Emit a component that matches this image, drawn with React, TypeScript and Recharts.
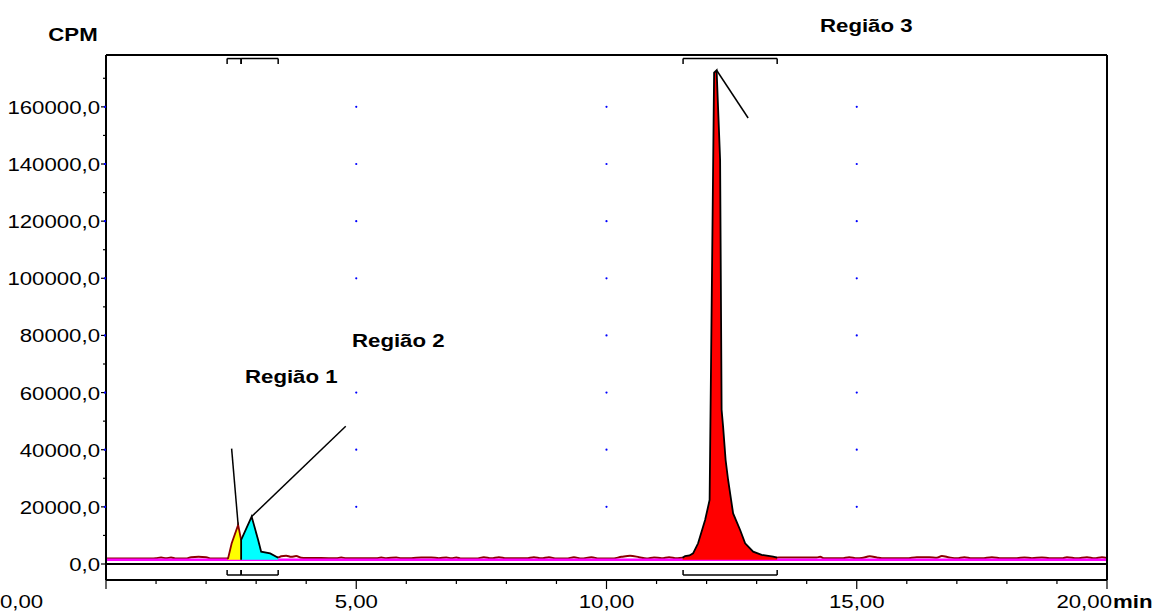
import React from 'react';
import { ComposedChart, XAxis, YAxis, Area, ReferenceLine, ReferenceDot } from 'recharts';

const W = 1157;
const H = 612;
const FONT = '"Liberation Sans", Arial, sans-serif';
const SX = 1.17;

const X_DOMAIN: [number, number] = [0, 20];
const Y_DOMAIN: [number, number] = [-5600, 178150];
const xTicks = [0, 1, 2, 3, 4, 5, 6, 7, 8, 9, 10, 11, 12, 13, 14, 15, 16, 17, 18, 19, 20];
const xGridTicks = [5, 10, 15];
const yTicks = [0, 10000, 20000, 30000, 40000, 50000, 60000, 70000, 80000, 90000, 100000, 110000, 120000, 130000, 140000, 150000, 160000, 170000];
const yGridTicks = [20000, 40000, 60000, 80000, 100000, 120000, 140000, 160000];
const baselineLevel = 1500;

// noise trace (min, CPM)
const traceT = [0, 0.9, 1.0, 1.1, 1.2, 1.3, 1.4, 1.6, 1.7, 1.85, 2.0, 2.1, 2.4, 2.6, 3.0, 3.44, 3.5, 3.6, 3.7, 3.8, 3.9, 4.0, 4.3, 4.6, 4.7, 4.8, 5.0, 5.4, 5.5, 5.6, 5.8, 5.9, 6.1, 6.3, 6.5, 6.65, 6.8, 6.9, 7.0, 7.1, 7.4, 7.55, 7.7, 7.85, 8.0, 8.4, 8.55, 8.7, 8.85, 9.0, 9.2, 9.35, 9.5, 9.7, 9.85, 10.1, 10.3, 10.47, 10.65, 10.8, 10.95, 11.1, 11.25, 11.4, 11.52, 12.0, 13.0, 13.41, 13.5, 14.2, 14.27, 14.35, 14.7, 14.85, 15.0, 15.1, 15.26, 15.4, 15.5, 16.0, 16.2, 16.45, 16.6, 16.7, 16.85, 17.0, 17.15, 17.3, 17.5, 17.7, 17.9, 18.2, 18.35, 18.5, 18.7, 18.85, 19.1, 19.2, 19.4, 19.6, 19.75, 19.9, 20.0];
const traceV = [1900, 1900, 2000, 2300, 2000, 2300, 1900, 1900, 2400, 2500, 2400, 1900, 1900, 1900, 1900, 2300, 2700, 2900, 2500, 2800, 2200, 2100, 2100, 2000, 2300, 2000, 2000, 2000, 2300, 2000, 2300, 2000, 2000, 2300, 2300, 2000, 2300, 2000, 2300, 1900, 1900, 2400, 2000, 2400, 2000, 2000, 2400, 2000, 2400, 1900, 1900, 2400, 1900, 2400, 1900, 1900, 2500, 2900, 2400, 1900, 2300, 2000, 2400, 2000, 2200, 2000, 2000, 2200, 2300, 2300, 2500, 2000, 2000, 2400, 2000, 2100, 2700, 2300, 2000, 2000, 2400, 2400, 2200, 2800, 2300, 2000, 2400, 2000, 2000, 2400, 2000, 2000, 2300, 2000, 2300, 2000, 2000, 2400, 2000, 2400, 2000, 2400, 2100];

// regions
const regionNames = ['Região 1', 'Região 2', 'Região 3'];
const regionStart = [2.42, 2.70, 11.53];
const regionEnd = [2.70, 3.44, 13.41];
const regionColors = ['#FFFF00', '#00FFFF', '#FF0000'];
const regionStroke = ['#8B0000', '#000000', '#000000'];

const region1T = [2.42, 2.44, 2.51, 2.64, 2.70];
const region1V = [1800, 2000, 7200, 13700, 8400];
const region2T = [2.70, 2.70, 2.91, 3.04, 3.10, 3.28, 3.44];
const region2V = [1500, 8400, 16600, 8400, 4300, 3700, 2200];
const region3T = [11.52, 11.57, 11.66, 11.73, 11.83, 11.97, 12.06, 12.15, 12.20, 12.27, 12.30, 12.33, 12.38, 12.43, 12.53, 12.67, 12.77, 12.93, 13.10, 13.33, 13.41];
const region3V = [2200, 2800, 3000, 3750, 7250, 15400, 22400, 172000, 172800, 141400, 54000, 48000, 36400, 29400, 17700, 11900, 7250, 4300, 3200, 2550, 2200];

// leader lines for labels: [t1, v1, t2, v2]
const leader1 = [2.51, 40400, 2.64, 13700];
const leader2 = [2.91, 16600, 4.79, 48200];
const leader3 = [12.20, 172800, 12.83, 156100];

const toData = (t: number[], v: number[]) => t.map((tt, i) => ({ t: tt, v: v[i] }));
const traceData = toData(traceT, traceV);
const regionData = [toData(region1T, region1V), toData(region2T, region2V), toData(region3T, region3V)];
const baseData = [{ t: X_DOMAIN[0], v: baselineLevel }, { t: X_DOMAIN[1], v: baselineLevel }];

// bracket levels (data units)
const BR_TOP = 176900;
const BR_TOP_TICK = 175000;
const BR_BOT = -3850;
const BR_BOT_TICK = -2100;

const Txt = ({ x, y, anchor = 'start', bold = false, children }: any) => (
  <text
    transform={`translate(${x},${y}) scale(${SX},1)`}
    x={0}
    y={0}
    textAnchor={anchor}
    fontFamily={FONT}
    fontSize={19}
    fontWeight={bold ? 'bold' : 'normal'}
    fill="#000"
  >
    {children}
  </text>
);

const XTick = (props: any) => {
  const { x, y, payload } = props;
  const v = payload.value;
  const major = v % 5 === 0;
  let lx = x;
  let anchor = 'middle';
  if (v === X_DOMAIN[0]) {
    lx = 0;
    anchor = 'start';
  } else if (v === X_DOMAIN[1]) {
    lx = x + 5;
    anchor = 'end';
  }
  return (
    <g>
      <line x1={x} y1={y} x2={x} y2={y + (major ? 9 : 4)} stroke="#000" strokeWidth={1.2} />
      {major && (
        <Txt x={lx} y={y + 28} anchor={anchor}>
          {v.toFixed(2).replace('.', ',')}
        </Txt>
      )}
    </g>
  );
};

const YTick = (props: any) => {
  const { x, y, payload } = props;
  const v = payload.value;
  const major = v % 20000 === 0;
  return (
    <g>
      {major ? (
        <>
          <line x1={x - 5} y1={y} x2={x} y2={y} stroke="#000" strokeWidth={1.2} />
          {v !== 0 && <rect x={x - 2} y={y - 1} width={2} height={2} fill="#0000FF" />}
          <Txt x={x - 6} y={y + 7} anchor="end">
            {v.toFixed(1).replace('.', ',')}
          </Txt>
        </>
      ) : (
        <line x1={x - 3} y1={y} x2={x} y2={y} stroke="#000" strokeWidth={1.2} />
      )}
    </g>
  );
};

const seg = (t1: number, v1: number, t2: number, v2: number) => [
  { x: t1, y: v1 },
  { x: t2, y: v2 },
];

export default function App() {
  const brackets: React.ReactNode[] = [];
  regionStart.forEach((s, i) => {
    const e = regionEnd[i];
    brackets.push(
      <ReferenceLine key={`bt${i}`} segment={seg(s, BR_TOP, e, BR_TOP)} stroke="#000" strokeWidth={1.5} ifOverflow="visible" />,
      <ReferenceLine key={`bts${i}`} segment={seg(s, BR_TOP, s, BR_TOP_TICK)} stroke="#000" strokeWidth={1.5} ifOverflow="visible" />,
      <ReferenceLine key={`bte${i}`} segment={seg(e, BR_TOP, e, BR_TOP_TICK)} stroke="#000" strokeWidth={1.5} ifOverflow="visible" />,
      <ReferenceLine key={`bb${i}`} segment={seg(s, BR_BOT, e, BR_BOT)} stroke="#000" strokeWidth={1.5} ifOverflow="visible" />,
      <ReferenceLine key={`bbs${i}`} segment={seg(s, BR_BOT, s, BR_BOT_TICK)} stroke="#000" strokeWidth={1.5} ifOverflow="visible" />,
      <ReferenceLine key={`bbe${i}`} segment={seg(e, BR_BOT, e, BR_BOT_TICK)} stroke="#000" strokeWidth={1.5} ifOverflow="visible" />
    );
  });

  const dots: React.ReactNode[] = [];
  xGridTicks.forEach((gx) =>
    yGridTicks.forEach((gy) =>
      dots.push(<ReferenceDot key={`d${gx}-${gy}`} x={gx} y={gy} r={1.1} fill="#0000FF" stroke="none" />)
    )
  );

  return (
    <div style={{ position: 'absolute', left: 0, top: 0, width: W, height: H, background: '#fff' }}>
      <ComposedChart width={W} height={H} margin={{ top: 55, right: 50, bottom: 0, left: 0 }}>
        <XAxis
          dataKey="t"
          type="number"
          domain={X_DOMAIN}
          ticks={xTicks}
          interval={0}
          allowDataOverflow
          height={32}
          tickSize={0}
          tickMargin={0}
          tickLine={false}
          axisLine={{ stroke: '#000', strokeWidth: 2 }}
          tick={(p: any) => <XTick {...p} />}
        />
        <YAxis
          type="number"
          domain={Y_DOMAIN}
          ticks={yTicks}
          interval={0}
          allowDataOverflow
          width={106}
          tickSize={0}
          tickMargin={0}
          tickLine={false}
          axisLine={{ stroke: '#000', strokeWidth: 2 }}
          tick={(p: any) => <YTick {...p} />}
        />
        {dots}
        <Area
          data={traceData}
          dataKey="v"
          type="monotone"
          stroke="#8B0000"
          strokeWidth={2}
          fill="none"
          fillOpacity={0}
          isAnimationActive={false}
          dot={false}
          activeDot={false}
        />
        <Area
          data={baseData}
          dataKey="v"
          type="linear"
          stroke="#FF00FF"
          strokeWidth={2.5}
          fill="none"
          fillOpacity={0}
          isAnimationActive={false}
          dot={false}
          activeDot={false}
        />
        {regionData.map((d, i) => (
          <Area
            key={regionNames[i]}
            name={regionNames[i]}
            data={d}
            dataKey="v"
            type="linear"
            baseValue={baselineLevel}
            stroke={regionStroke[i]}
            strokeWidth={1.8}
            fill={regionColors[i]}
            fillOpacity={1}
            isAnimationActive={false}
            dot={false}
            activeDot={false}
          />
        ))}
        <ReferenceLine y={0} stroke="#000" strokeWidth={2.2} />
        <ReferenceLine y={Y_DOMAIN[1]} stroke="#000" strokeWidth={2} />
        <ReferenceLine x={X_DOMAIN[1]} stroke="#000" strokeWidth={2} />
        {brackets}
        <ReferenceLine segment={seg(leader1[0], leader1[1], leader1[2], leader1[3])} stroke="#000" strokeWidth={1.5} />
        <ReferenceLine segment={seg(leader2[0], leader2[1], leader2[2], leader2[3])} stroke="#000" strokeWidth={1.5} />
        <ReferenceLine segment={seg(leader3[0], leader3[1], leader3[2], leader3[3])} stroke="#000" strokeWidth={1.5} />
      </ComposedChart>
      <svg
        width={W}
        height={H}
        style={{ position: 'absolute', left: 0, top: 0, pointerEvents: 'none' }}
      >
        <Txt x={73} y={41} anchor="middle" bold>CPM</Txt>
        <Txt x={1113} y={608} bold>min</Txt>
        <Txt x={245} y={383} bold>{regionNames[0]}</Txt>
        <Txt x={352} y={347} bold>{regionNames[1]}</Txt>
        <Txt x={820} y={32} bold>{regionNames[2]}</Txt>
      </svg>
    </div>
  );
}
